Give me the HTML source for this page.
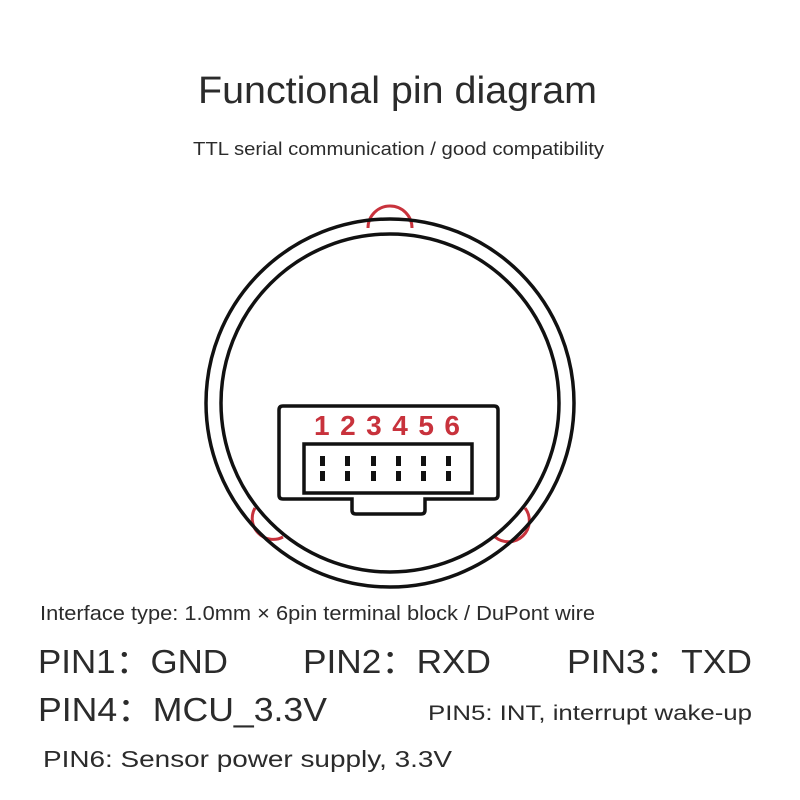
<!DOCTYPE html>
<html><head><style>html,body{margin:0;padding:0;background:#fff;}svg{display:block}</style></head>
<body>
<svg width="800" height="800" viewBox="0 0 800 800" xmlns="http://www.w3.org/2000/svg" font-family="Liberation Sans, DejaVu Sans, sans-serif" fill="#2b2b2b">
<rect width="800" height="800" fill="#fff"/>
<text x="198" y="103" font-size="38" textLength="399" lengthAdjust="spacingAndGlyphs">Functional pin diagram</text>
<text x="193" y="155" font-size="18" textLength="411" lengthAdjust="spacingAndGlyphs">TTL serial communication / good compatibility</text>

<g fill="none" stroke-width="3.5">
<path d="M368,228 A22,22 0 0 1 412,228" stroke="#c8323c" stroke-width="3"/>
<path d="M255,508 A21,21 0 0 0 283,537" stroke="#c8323c" stroke-width="3"/>
<path d="M495,537 A21,21 0 0 0 525,508" stroke="#c8323c" stroke-width="3"/>
<circle cx="390" cy="403" r="184" stroke="#111"/>
<circle cx="390" cy="403" r="169" stroke="#111"/>
<path d="M284,406 H494 Q498,406 498,410 V495 Q498,499 494,499 H425 V510 Q425,514 421,514 H356 Q352,514 352,510 V499 H283 Q279,499 279,495 V410 Q279,406 283,406 Z" stroke="#111" fill="#fff"/>
<rect x="304" y="444" width="168" height="49" stroke="#111"/>
</g>
<g fill="#111">
<rect x="320" y="456" width="5" height="10"/><rect x="320" y="471" width="5" height="10"/>
<rect x="345" y="456" width="5" height="10"/><rect x="345" y="471" width="5" height="10"/>
<rect x="371" y="456" width="5" height="10"/><rect x="371" y="471" width="5" height="10"/>
<rect x="396" y="456" width="5" height="10"/><rect x="396" y="471" width="5" height="10"/>
<rect x="421" y="456" width="5" height="10"/><rect x="421" y="471" width="5" height="10"/>
<rect x="446" y="456" width="5" height="10"/><rect x="446" y="471" width="5" height="10"/>
</g>
<text x="314" y="435" font-size="28" font-weight="bold" fill="#c8323c" textLength="146" lengthAdjust="spacing">123456</text>

<text x="40" y="620" font-size="20" textLength="555" lengthAdjust="spacingAndGlyphs">Interface type: 1.0mm × 6pin terminal block / DuPont wire</text>
<text x="38" y="673" font-size="33" textLength="190" lengthAdjust="spacingAndGlyphs">PIN1：GND</text>
<text x="303" y="673" font-size="33" textLength="188" lengthAdjust="spacingAndGlyphs">PIN2：RXD</text>
<text x="567" y="673" font-size="33" textLength="185" lengthAdjust="spacingAndGlyphs">PIN3：TXD</text>
<text x="38" y="721" font-size="33" textLength="289" lengthAdjust="spacingAndGlyphs">PIN4：MCU_3.3V</text>
<text x="428" y="720" font-size="21" textLength="324" lengthAdjust="spacingAndGlyphs">PIN5: INT, interrupt wake-up</text>
<text x="43" y="767" font-size="23" textLength="409" lengthAdjust="spacingAndGlyphs">PIN6: Sensor power supply, 3.3V</text>
</svg>
</body></html>
